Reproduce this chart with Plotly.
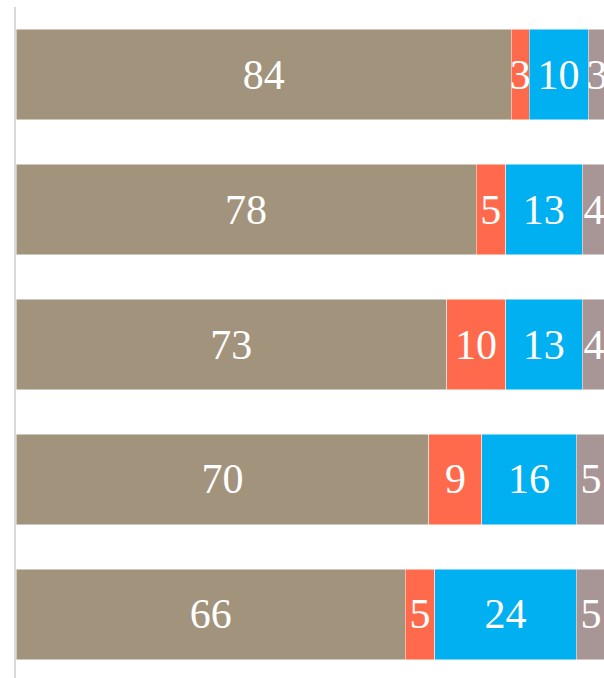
import plotly.graph_objects as go

categories = ["Group 1", "Group 2", "Group 3", "Group 4", "Group 5"]
series_names = ["Series A", "Series B", "Series C", "Series D"]
series_a = [84, 78, 73, 70, 66]
series_b = [3, 5, 10, 9, 5]
series_c = [10, 13, 13, 16, 24]
series_d = [3, 4, 4, 5, 5]
colors = ["#A2937C", "#FF6A4D", "#00B0F0", "#A89696"]

fig = go.Figure()
for name, vals, col in zip(series_names, [series_a, series_b, series_c, series_d], colors):
    fig.add_trace(go.Bar(
        y=categories, x=vals, name=name, orientation="h",
        marker=dict(color=col, line=dict(color="rgba(255,255,255,0.6)", width=0.8)),
        text=[str(v) for v in vals], textposition="inside",
        insidetextanchor="middle", constraintext="none",
        textfont=dict(family="Liberation Serif", size=42, color="white"),
        hoverinfo="skip",
    ))

fig.update_layout(
    barmode="stack", bargap=0.333,
    width=604, height=678,
    margin=dict(l=16, r=0, t=7, b=0),
    plot_bgcolor="white", paper_bgcolor="white",
    showlegend=False,
    uniformtext=dict(minsize=42, mode="show"),
    xaxis=dict(range=[0, 99.7], visible=False, fixedrange=True),
    yaxis=dict(range=[4.4704, -0.5], showticklabels=False, showgrid=False,
               showline=True, linecolor="#D9D9D9", linewidth=2, ticks="",
               zeroline=False, fixedrange=True),
)
fig.write_html("out.html", config={"displayModeBar": False},
               post_script="document.body.style.margin='0';document.body.style.overflow='hidden';")
